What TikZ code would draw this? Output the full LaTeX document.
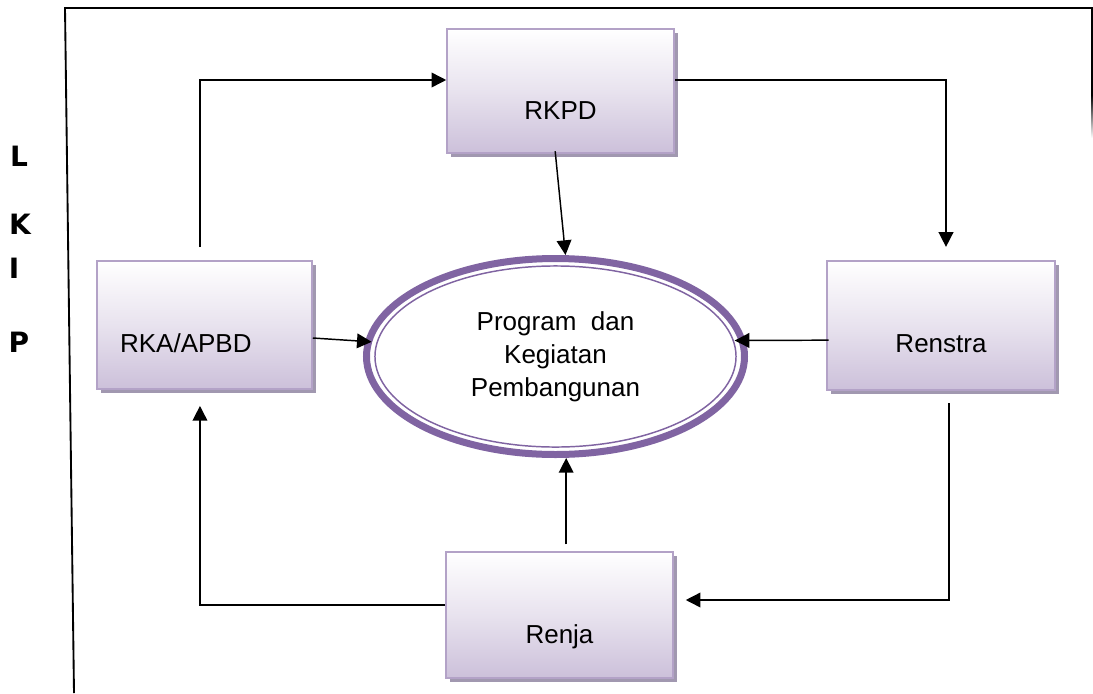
\documentclass[tikz,border=0pt]{standalone}
\usepackage{fontspec}
\setmainfont{Liberation Sans}
\newfontfamily\lkipfont{DejaVu Sans}
\usepackage{tikz}
\usetikzlibrary{arrows.meta}
\usetikzlibrary{shapes.geometric}
\usetikzlibrary{shadows}
\definecolor{boxedge}{HTML}{B3A2C7}
\definecolor{boxbot}{HTML}{CCC0DA}
\definecolor{boxshadow}{HTML}{A198B0}
\definecolor{progline}{HTML}{8064A2}
\tikzset{
    >={Triangle[length=11pt,width=11pt]},
    box/.style={draw=boxedge, line width=1.4pt, top color=white, bottom color=boxbot,
        middle color=boxbot!45, inner sep=0pt,
        drop shadow={shadow xshift=3pt, shadow yshift=-3pt, fill=boxshadow, opacity=1}},
    boxtext/.style={font=\fontsize{19.5}{24}\selectfont},
    prog/.style={ellipse, draw=progline, line width=5.25pt, fill=white, inner sep=0pt,
        minimum width=283.5pt, minimum height=147pt, align=center,
        font=\fontsize{19.5}{24.75}\selectfont},
    lkip/.style={font=\lkipfont\bfseries\fontsize{21}{24}\selectfont},
    link/.style={->, line width=1.1pt}}

\begin{document}
\begin{tikzpicture}[x=0.75pt, y=-0.75pt]
    \useasboundingbox (0,0) rectangle (1093,693);

    % frame
    \draw[line width=1.4pt] (74,693) -- (65,8) -- (1092,8) -- (1092,95);
    \shade[top color=black, bottom color=white] (1091.1,95) rectangle (1092.9,138);

    % side letters
    \node[lkip] (l) at (19,156) {L};
    \node[lkip] (k) at (20,224) {K};
    \node[lkip] (i) at (14,268) {I};
    \node[lkip] (p) at (19,342) {P};

    % boxes
    \node[box, minimum width=170pt, minimum height=93pt,
        label={[boxtext, yshift=-15pt]center:RKPD}] (rkpd) at (560.5,91) {};
    \node[box, minimum width=161pt, minimum height=96pt,
        label={[boxtext, xshift=-14pt, yshift=-13.5pt]center:RKA/APBD}] (rka) at (204.5,325) {};
    \node[box, minimum width=171pt, minimum height=97pt,
        label={[boxtext, yshift=-14pt]center:Renstra}] (renstra) at (941,325.5) {};
    \node[box, minimum width=170pt, minimum height=94.5pt,
        label={[boxtext, yshift=-16.5pt]center:Renja}] (renja) at (559.5,615) {};

    % centre
    \node[prog] (prog) at (555.5,356.5) {Program\ \ dan\\Kegiatan\\Pembangunan};
    \draw[progline, line width=1.1pt] (prog.center) ellipse [x radius=135.4pt, y radius=67.9pt];

    % connectors
    \draw[link] ([xshift=-3.4pt,yshift=9.75pt]rka.north) |- ([yshift=8.25pt]rkpd.west);
    \draw[link] ([yshift=8.25pt]rkpd.east) -| ([xshift=3.75pt,yshift=9.75pt]renstra.north);
    \draw[link] ([xshift=-4pt,yshift=2pt]rkpd.south) -- ([xshift=7.5pt]prog.north);
    \draw[link] ([xshift=6pt,yshift=-9pt]renstra.south) |- ([xshift=9pt,yshift=11.25pt]renja.east);
    \draw[link] ([yshift=7.5pt]renja.west) -| ([xshift=-3.4pt,yshift=-12pt]rka.south);
    \draw[link] ([xshift=5pt,yshift=5pt]renja.north) -- ([xshift=8pt]prog.south);
    \draw[link] ([yshift=-9.75pt]rka.east) -- ([xshift=6.5pt,yshift=11pt]prog.west);
    \draw[link] ([xshift=2pt,yshift=-11pt]renstra.west) -- ([xshift=-10pt,yshift=12pt]prog.east);

\end{tikzpicture}
\end{document}
